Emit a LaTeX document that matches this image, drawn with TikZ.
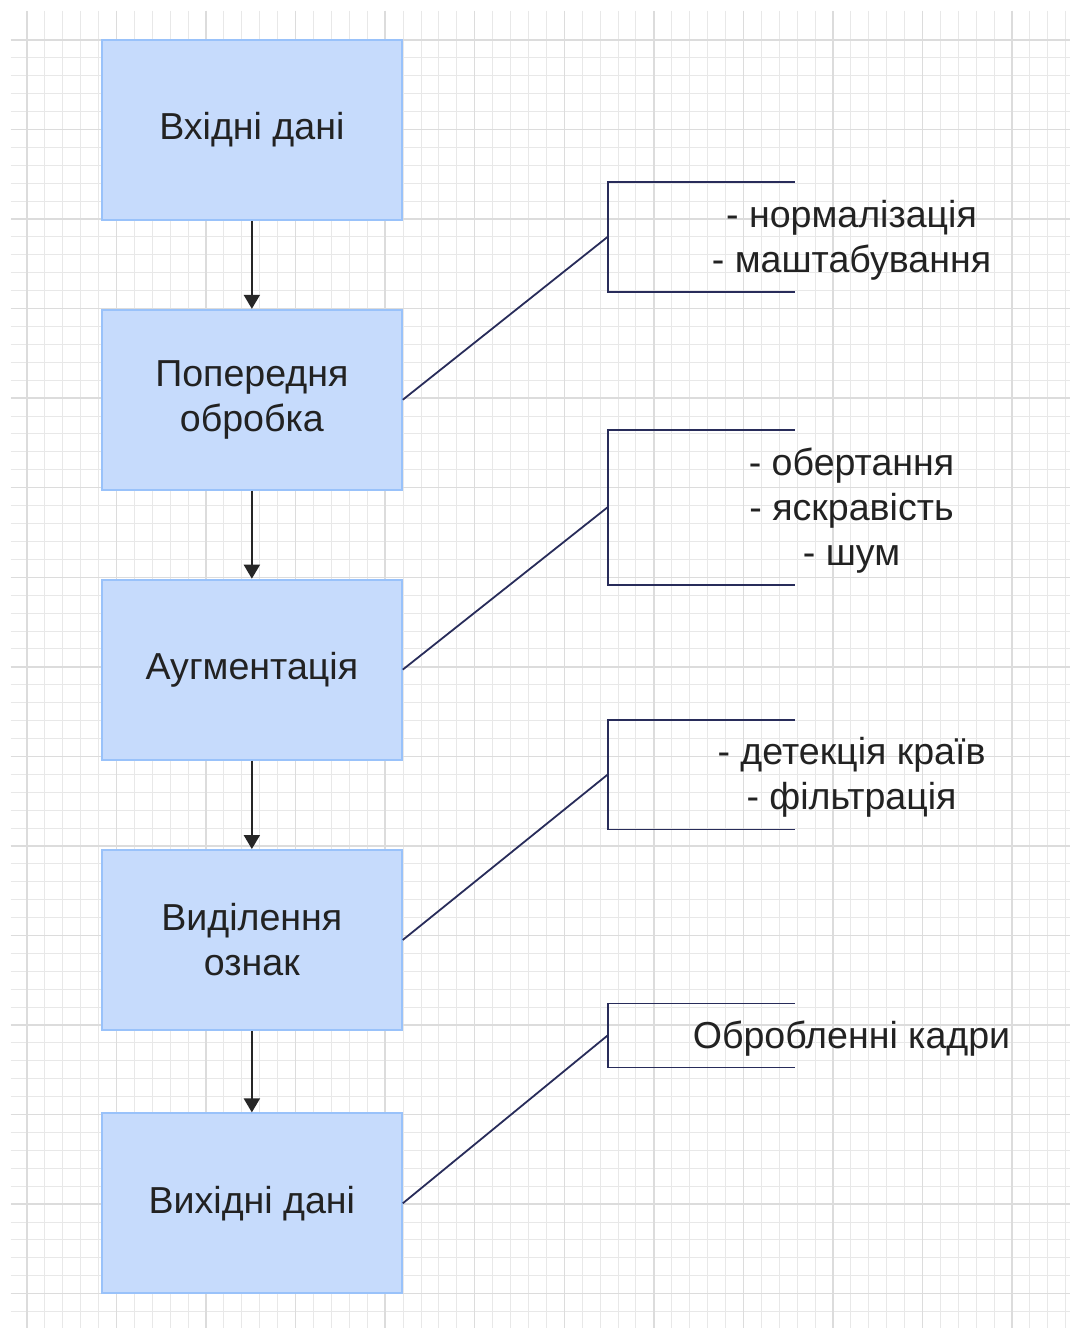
\documentclass[tikz,border=0pt]{standalone}
\usepackage{fontspec}
\setmainfont{Liberation Sans}
\usetikzlibrary{arrows.meta}
\usetikzlibrary{positioning}

\begin{document}
\begin{tikzpicture}[x=0.5pt,y=-0.5pt,
    stage_box/.style={draw=color_edge,fill=color_fill,line width=1pt,minimum width=150pt,minimum height=90pt,inner sep=0,align=center,text=color_text,font=\fontsize{18.8}{22.5}\selectfont},
    note_text/.style={inner sep=0,align=center,text=color_text,yshift=-1.5pt,font=\fontsize{18.8}{22.5}\selectfont},
    flow_arrow/.style={draw=black!85,line width=1pt,-{Triangle[width=8pt,length=7pt]}},
    note_line/.style={draw=color_note,line width=0.9pt},
    grid_minor/.style={draw=color_grid_1,line width=0.5pt},
    grid_major/.style={draw=color_grid_2,line width=0.75pt}]
    \definecolor{color_fill}{RGB}{198,219,252}
    \definecolor{color_edge}{RGB}{153,194,250}
    \definecolor{color_text}{RGB}{34,34,34}
    \definecolor{color_note}{RGB}{40,44,90}
    \definecolor{color_grid_1}{RGB}{232,232,232}
    \definecolor{color_grid_2}{RGB}{220,220,220}
    \fill[white] (0,0) rectangle (1071,1329);

    % grid paper
    \foreach \i in {1,...,59}
      \draw[grid_minor] ({9.08+17.92*\i},11) -- ({9.08+17.92*\i},1329);
    \foreach \i in {1,...,72}
      \draw[grid_minor] (11,{22.08+17.92*\i}) -- (1071,{22.08+17.92*\i});
    \foreach \i in {0,...,11}
      \draw[grid_major] ({27+89.6*\i},11) -- ({27+89.6*\i},1329);
    \foreach \i in {0,...,14}
      \draw[grid_major] (11,{40+89.6*\i}) -- (1071,{40+89.6*\i});

    % stages
    \node[stage_box] (in_box) at (252,130) {Вхідні дані};
    \node[stage_box] (prep_box) at (252,400) {Попередня\\обробка};
    \node[stage_box] (aug_box) at (252,670) {Аугментація};
    \node[stage_box] (feat_box) at (252,940.5) {Виділення\\ознак};
    \node[stage_box] (out_box) at (252,1204) {Вихідні дані};

    \draw[flow_arrow] (in_box) -- (prep_box);
    \draw[flow_arrow] (prep_box) -- (aug_box);
    \draw[flow_arrow] (aug_box) -- (feat_box);
    \draw[flow_arrow] (feat_box) -- (out_box);

    % notes
    \draw[note_line] (795,182) -| (608,292) -- (795,292);
    \coordinate (prep_note) at (608,237);
    \node[note_text] (prep_text) at (852,237) {- нормалізація\\- маштабування};

    \draw[note_line] (795,430) -| (608,585) -- (795,585);
    \coordinate (aug_note) at (608,507.5);
    \node[note_text] (aug_text) at (852,507.5) {- обертання\\- яскравість\\- шум};

    \draw[note_line] (795,720) -| (608,830) -- (795,830);
    \coordinate (feat_note) at (608,775);
    \node[note_text] (feat_text) at (852,775) {- детекція країв\\- фільтрація};

    \draw[note_line] (795,1004) -| (608,1068) -- (795,1068);
    \coordinate (out_note) at (608,1036);
    \node[note_text] (out_text) at (852,1036) {Обробленні кадри};

    \draw[note_line] (prep_box.east) -- (prep_note);
    \draw[note_line] (aug_box.east) -- (aug_note);
    \draw[note_line] (feat_box.east) -- (feat_note);
    \draw[note_line] (out_box.east) -- (out_note);

\end{tikzpicture}
\end{document}
